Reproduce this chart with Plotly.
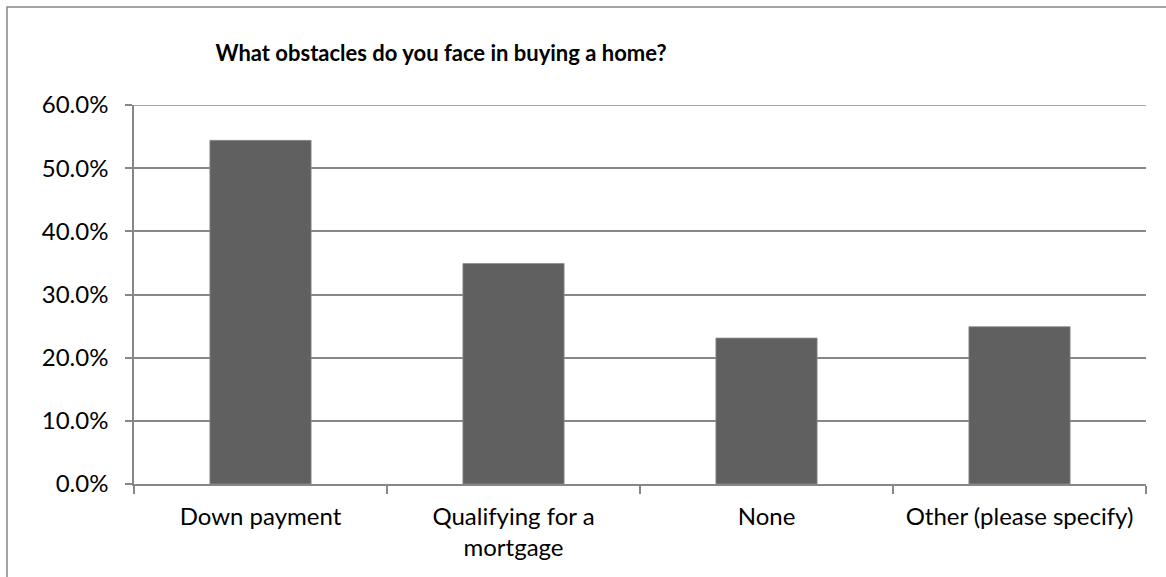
import plotly.graph_objects as go

# Survey responses: share of respondents naming each obstacle
categories = ["Down payment", "Qualifying for a<br>mortgage", "None", "Other (please specify)"]
shares = [0.544, 0.349, 0.231, 0.249]
y_ticks = [0.0, 0.1, 0.2, 0.3, 0.4, 0.5, 0.6]

W, H = 1166, 577
L, R, T, B = 134, 20, 105, 93
pw, ph = W - L - R, H - T - B

grid = "#878787"
font_family = "Lato, 'Open Sans', sans-serif"

fig = go.Figure(
    go.Bar(
        x=categories,
        y=shares,
        marker=dict(color="#606060", line=dict(color="#8a8a8a", width=0.8)),
        hoverinfo="skip",
    )
)

fig.update_layout(
    width=W,
    height=H,
    margin=dict(l=L, r=R, t=T, b=B),
    paper_bgcolor="white",
    plot_bgcolor="white",
    bargap=0.6,
    showlegend=False,
    font=dict(family=font_family, size=24, color="#000000"),
    title=dict(
        text="<b>What obstacles do you face in buying a home?</b>",
        xref="paper",
        x=(441 - L) / pw,
        xanchor="center",
        yref="container",
        y=1 - 53 / H,
        yanchor="middle",
        font=dict(family=font_family, size=22, color="#000000"),
    ),
    xaxis=dict(
        showline=True,
        linecolor=grid,
        linewidth=1.5,
        ticks="outside",
        tickson="boundaries",
        ticklen=8,
        tickcolor=grid,
        tickwidth=1.5,
        showgrid=False,
        ticklabelstandoff=10,
        tickfont=dict(size=24),
    ),
    yaxis=dict(
        range=[0, y_ticks[-1]],
        tickvals=y_ticks,
        tickformat=".1%",
        showline=True,
        linecolor=grid,
        linewidth=1.5,
        ticks="outside",
        ticklen=7,
        tickcolor=grid,
        tickwidth=1.5,
        showgrid=True,
        gridcolor=grid,
        gridwidth=1.5,
        zeroline=False,
        ticklabelstandoff=12,
        tickfont=dict(size=24),
    ),
    shapes=[
        # chart-area frame
        dict(
            type="rect",
            xref="paper",
            yref="paper",
            x0=(7 - L) / pw,
            y0=-0.5,
            x1=1.2,
            y1=1 + (T - 7) / ph,
            line=dict(color=grid, width=1.5),
            fillcolor="rgba(0,0,0,0)",
            layer="below",
        ),
        # gridline at the top of the value range
        dict(
            type="line",
            xref="paper",
            yref="y",
            x0=0,
            x1=1,
            y0=y_ticks[-1],
            y1=y_ticks[-1],
            line=dict(color=grid, width=1.5),
            layer="below",
        ),
    ],
)

fig.write_html("out.html")
